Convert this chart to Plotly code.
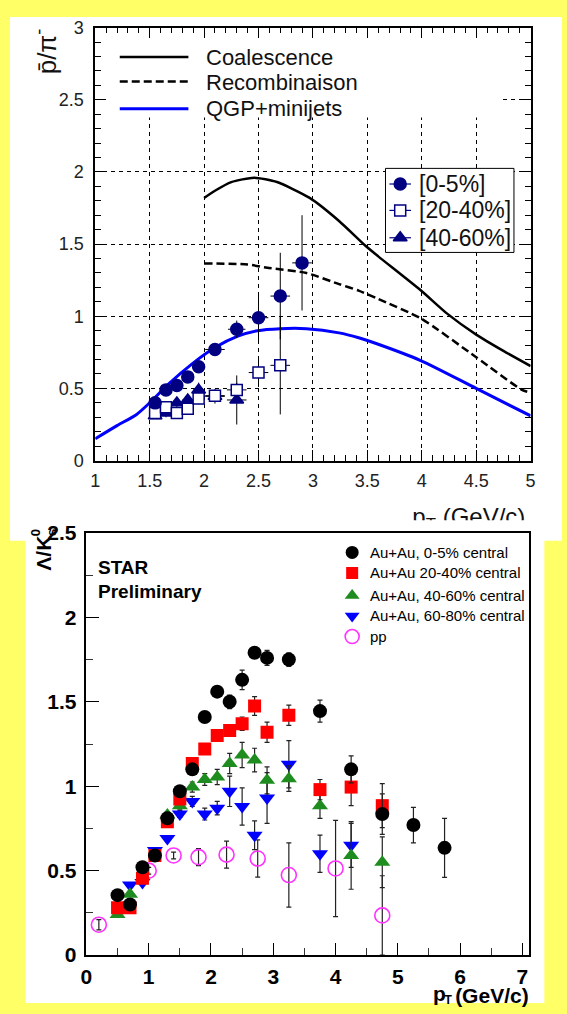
import plotly.graph_objects as go

W, H = 567, 1014
YELLOW = "#FFFF66"
NAVY = "#000080"
FONT = "Liberation Sans, Arial, sans-serif"

# ---------------- upper panel: pbar/pi- ratio ----------------
coal_x = [2.0, 2.1, 2.25, 2.46, 2.67, 2.97, 3.24, 3.48, 3.6, 3.99, 4.23, 4.5, 4.75, 5.0]
coal_y = [1.82, 1.87, 1.93, 1.96, 1.93, 1.82, 1.66, 1.49, 1.415, 1.18, 1.02, 0.873, 0.76, 0.655]

recomb_x = [2.0, 2.4, 2.58, 2.94, 3.24, 3.42, 3.6, 3.99, 4.5, 4.92, 5.0]
recomb_y = [1.366, 1.359, 1.336, 1.30, 1.223, 1.178, 1.12, 0.986, 0.716, 0.49, 0.47]

qgp_x = [1.0, 1.2, 1.38, 1.5, 1.68, 1.89, 2.1, 2.31, 2.49, 2.7, 2.94, 3.24, 3.42, 3.6, 3.99, 4.5, 5.0]
qgp_y = [0.151, 0.242, 0.32, 0.40, 0.535, 0.67, 0.783, 0.862, 0.90, 0.914, 0.914, 0.885, 0.851, 0.806, 0.693, 0.50, 0.31]

c05_x = [1.55, 1.65, 1.75, 1.85, 1.95, 2.1, 2.3, 2.5, 2.7, 2.9]
c05_y = [0.40, 0.49, 0.52, 0.58, 0.65, 0.77, 0.91, 0.99, 1.14, 1.37]
c05_ey = [0.02, 0.02, 0.02, 0.03, 0.03, 0.04, 0.06, 0.16, 0.30, 0.33]
c05_ex = [0.05, 0.05, 0.05, 0.05, 0.05, 0.09, 0.08, 0.09, 0.09, 0.09]

c2040_x = [1.55, 1.65, 1.75, 1.85, 1.95, 2.1, 2.3, 2.5, 2.7]
c2040_y = [0.33, 0.37, 0.33, 0.36, 0.43, 0.45, 0.49, 0.61, 0.66]
c2040_ey = [0.02, 0.03, 0.03, 0.03, 0.04, 0.04, 0.05, 0.10, 0.34]
c2040_ex = [0.05, 0.05, 0.05, 0.05, 0.05, 0.09, 0.09, 0.09, 0.09]

c4060_x = [1.55, 1.65, 1.75, 1.85, 1.95, 2.1, 2.3]
c4060_y = [0.31, 0.33, 0.40, 0.42, 0.49, 0.445, 0.42]
c4060_ey = [0.02, 0.03, 0.03, 0.04, 0.05, 0.05, 0.17]
c4060_ex = [0.05, 0.05, 0.05, 0.05, 0.05, 0.09, 0.09]

top_xticks = [1, 1.5, 2, 2.5, 3, 3.5, 4, 4.5, 5]
top_yticks = [0, 0.5, 1, 1.5, 2, 2.5, 3]

# ---------------- lower panel: Lambda/K0s ratio ----------------
auau05_x = [0.5, 0.7, 0.9, 1.1, 1.3, 1.5, 1.7, 1.9, 2.1, 2.3, 2.5, 2.7, 2.9, 3.25, 3.75, 4.25, 4.75, 5.25, 5.75]
auau05_y = [0.355, 0.30, 0.52, 0.59, 0.81, 0.97, 1.10, 1.41, 1.56, 1.50, 1.63, 1.79, 1.76, 1.75, 1.445, 1.10, 0.835, 0.77, 0.635]
auau05_e = [0.01, 0.01, 0.01, 0.01, 0.015, 0.015, 0.02, 0.02, 0.03, 0.04, 0.058, 0.03, 0.045, 0.04, 0.065, 0.08, 0.12, 0.105, 0.175]

auau2040_x = [0.5, 0.7, 0.9, 1.1, 1.3, 1.5, 1.7, 1.9, 2.1, 2.3, 2.5, 2.7, 2.9, 3.25, 3.75, 4.25, 4.75]
auau2040_y = [0.28, 0.28, 0.455, 0.59, 0.79, 0.925, 1.135, 1.22, 1.30, 1.33, 1.37, 1.475, 1.32, 1.42, 0.98, 0.995, 0.885]
auau2040_e = [0.01, 0.01, 0.01, 0.01, 0.015, 0.02, 0.02, 0.02, 0.025, 0.03, 0.04, 0.055, 0.06, 0.06, 0.06, 0.11, 0.13]

auau4060_x = [0.5, 0.7, 1.3, 1.5, 1.7, 1.9, 2.1, 2.3, 2.5, 2.7, 2.9, 3.25, 3.75, 4.25, 4.75]
auau4060_y = [0.24, 0.36, 0.83, 0.885, 0.995, 1.04, 1.055, 1.135, 1.185, 1.155, 1.035, 1.045, 0.885, 0.59, 0.55]
auau4060_e = [0.01, 0.01, 0.02, 0.02, 0.03, 0.035, 0.045, 0.06, 0.075, 0.07, 0.08, 0.075, 0.075, 0.2, 0.15]

auau6080_x = [0.7, 0.9, 1.1, 1.3, 1.5, 1.7, 1.9, 2.1, 2.3, 2.5, 2.7, 2.9, 3.25, 3.75, 4.25]
auau6080_y = [0.415, 0.43, 0.62, 0.69, 0.835, 0.91, 0.835, 0.87, 0.97, 0.88, 0.71, 0.93, 1.13, 0.60, 0.65]
auau6080_e = [0.01, 0.01, 0.01, 0.015, 0.02, 0.03, 0.035, 0.04, 0.09, 0.11, 0.085, 0.15, 0.14, 0.11, 0.13]

pp_x = [0.2, 1.0, 1.4, 1.8, 2.25, 2.75, 3.25, 4.0, 4.75]
pp_y = [0.18, 0.50, 0.59, 0.58, 0.595, 0.572, 0.474, 0.513, 0.235]
pp_e = [0.03, 0.02, 0.02, 0.05, 0.08, 0.11, 0.19, 0.285, 0.235]

bot_xticks = [0, 1, 2, 3, 4, 5, 6, 7]
bot_yticks = [0, 0.5, 1, 1.5, 2, 2.5]

legend_top_curves = ["Coalescence", "Recombinaison", "QGP+minijets"]
legend_top_points = ["[0-5%]", "[20-40%]", "[40-60%]"]
legend_bottom = ["Au+Au, 0-5% central", "Au+Au 20-40% central", "Au+Au, 40-60% central",
                 "Au+Au, 60-80% central", "pp"]

PP_COLOR = "#FF33FF"


def fx(px):
    return px / W


def fy(py):
    return 1 - py / H


fig = go.Figure()

# ---- upper panel traces ----
fig.add_trace(go.Scatter(x=coal_x, y=coal_y, mode="lines", line=dict(color="black", width=2.5, shape="spline", smoothing=0.6),
                         xaxis="x", yaxis="y", showlegend=False))
fig.add_trace(go.Scatter(x=recomb_x, y=recomb_y, mode="lines",
                         line=dict(color="black", width=2.5, dash="8px,4px", shape="spline", smoothing=0.6),
                         xaxis="x", yaxis="y", showlegend=False))
fig.add_trace(go.Scatter(x=qgp_x, y=qgp_y, mode="lines", line=dict(color="#0000FF", width=3, shape="spline", smoothing=0.8),
                         xaxis="x", yaxis="y", showlegend=False))


def top_points(x, y, ex, ey, symbol, fill, size):
    return go.Scatter(
        x=x, y=y, mode="markers", xaxis="x", yaxis="y", showlegend=False,
        error_y=dict(type="data", array=ey, color="black", thickness=1, width=0),
        error_x=dict(type="data", array=ex, color="black", thickness=1, width=0),
        marker=dict(symbol=symbol, size=size, color=fill, line=dict(color=NAVY, width=1.5)),
    )


fig.add_trace(top_points(c4060_x, c4060_y, c4060_ex, c4060_ey, "triangle-up", NAVY, 12))
fig.add_trace(top_points(c2040_x, c2040_y, c2040_ex, c2040_ey, "square", "white", 11))
fig.add_trace(top_points(c05_x, c05_y, c05_ex, c05_ey, "circle", NAVY, 12))


# ---- lower panel traces ----
def marker_style(symbol, color, size, hollow):
    if hollow:
        return dict(symbol=symbol, size=size, color="rgba(255,255,255,0)", line=dict(color=color, width=1.6))
    return dict(symbol=symbol, size=size, color=color, line=dict(width=0))


def bottom_points(x, y, e, symbol, color, size, hollow=False):
    return go.Scatter(
        x=x, y=y, mode="markers", xaxis="x2", yaxis="y2", showlegend=False,
        error_y=dict(type="data", array=e, color="#222", thickness=1.2, width=2.5),
        marker=marker_style(symbol, color, size, hollow),
    )


fig.add_trace(bottom_points(pp_x, pp_y, pp_e, "circle", PP_COLOR, 15, hollow=True))
fig.add_trace(bottom_points(auau6080_x, auau6080_y, auau6080_e, "triangle-down", "#0000FF", 14))
fig.add_trace(bottom_points(auau4060_x, auau4060_y, auau4060_e, "triangle-up", "#1E8C1E", 14))
fig.add_trace(bottom_points(auau2040_x, auau2040_y, auau2040_e, "square", "#FF0000", 13))
fig.add_trace(bottom_points(auau05_x, auau05_y, auau05_e, "circle", "black", 14))

# ---- legend keys, drawn on a full-page overlay axis in pixel units ----
key_style = [("solid", "black"), ("dash", "black"), ("solid", "#0000FF")]
key_rows = [46, 71, 99]
for (dash, col), row in zip(key_style, key_rows):
    fig.add_trace(go.Scatter(x=[116, 186], y=[row, row], mode="lines", xaxis="x3", yaxis="y3", showlegend=False,
                             line=dict(color=col, width=2.5 if col == "black" else 3,
                                       dash="8px,4px" if dash == "dash" else "solid")))

pt_rows = [176, 203, 231]
pt_syms = [("circle", NAVY, 12), ("square", "white", 11), ("triangle-up", NAVY, 12)]
for (sym, fill, size), row in zip(pt_syms, pt_rows):
    fig.add_trace(go.Scatter(x=[391, 413], y=[row, row], mode="lines", xaxis="x3", yaxis="y3", showlegend=False,
                             line=dict(color=NAVY, width=1.2)))
    fig.add_trace(go.Scatter(x=[402], y=[row], mode="markers", xaxis="x3", yaxis="y3", showlegend=False,
                             marker=dict(symbol=sym, size=size, color=fill, line=dict(color=NAVY, width=1.5))))

bl_rows = [553, 574, 597, 618, 639]
bl_syms = [("circle", "black", 13, False), ("square", "#FF0000", 12, False), ("triangle-up", "#1E8C1E", 13, False),
           ("triangle-down", "#0000FF", 13, False), ("circle", PP_COLOR, 14, True)]
for (sym, col, size, hollow), row in zip(bl_syms, bl_rows):
    fig.add_trace(go.Scatter(x=[353], y=[row], mode="markers", xaxis="x3", yaxis="y3", showlegend=False,
                             marker=marker_style(sym, col, size, hollow)))

# lower panel x title: p, subscript T, (GeV/c)
title_font = dict(family=FONT, size=21, color="black", weight="bold")
fig.add_trace(go.Scatter(x=[533], y=[1009], mode="text", text=["(GeV/c)"], textposition="middle left",
                         xaxis="x3", yaxis="y3", showlegend=False, cliponaxis=False, textfont=title_font))
fig.add_trace(go.Scatter(x=[442], y=[1007], mode="text", text=["p"], textposition="middle center",
                         xaxis="x3", yaxis="y3", showlegend=False, cliponaxis=False, textfont=title_font))
fig.add_trace(go.Scatter(x=[451], y=[1012], mode="text", text=["T"], textposition="middle center",
                         xaxis="x3", yaxis="y3", showlegend=False, cliponaxis=False,
                         textfont=dict(family=FONT, size=12, color="black", weight="bold")))

# upper panel x title, cut off where the lower panel starts
fig.add_trace(go.Scatter(x=[472], y=[519], mode="text", text=["p<sub>T</sub> (GeV/c)"], xaxis="x4", yaxis="y4",
                         showlegend=False, cliponaxis=True,
                         textfont=dict(family=FONT, size=24, color="#111")))

# ---- layout ----
top_font = dict(family=FONT, size=18, color="#222")
bot_font = dict(family=FONT, size=21, color="black", weight="bold")

axis_common = dict(showline=True, linecolor="black", ticks="inside", tickcolor="black", zeroline=False, fixedrange=True)

layout = dict(
    width=W, height=H, margin=dict(l=0, r=0, t=0, b=0),
    paper_bgcolor=YELLOW, plot_bgcolor="rgba(0,0,0,0)", showlegend=False,
    xaxis=dict(**axis_common, domain=[fx(91), fx(535)], range=[1, 5], linewidth=1.5, mirror="allticks",
               tickvals=top_xticks, ticktext=[f"{v:g}" for v in top_xticks], ticklen=11, tickwidth=1,
               minor=dict(dtick=0.1, tick0=1, ticklen=6, ticks="inside", tickcolor="black", showgrid=False),
               showgrid=True, gridcolor="black", gridwidth=1, griddash="4px,4px",
               tickfont=top_font, ticklabelstandoff=3, anchor="y"),
    yaxis=dict(**axis_common, domain=[fy(459), fy(16)], range=[0, 3], linewidth=1.5, mirror="allticks",
               tickvals=top_yticks, ticktext=[f"{v:g}" for v in top_yticks], ticklen=11, tickwidth=1,
               minor=dict(dtick=0.1, tick0=0, ticklen=6, ticks="inside", tickcolor="black", showgrid=False),
               showgrid=True, gridcolor="black", gridwidth=1, griddash="4px,4px",
               tickfont=top_font, ticklabelstandoff=6, anchor="x"),
    xaxis2=dict(**axis_common, domain=[fx(82), fx(533)], range=[0, 7.1], linewidth=1.5, mirror=True,
                tickvals=bot_xticks, ticktext=[str(v) for v in bot_xticks], ticklen=12, tickwidth=1.2,
                minor=dict(dtick=0.5, tick0=0, ticklen=7, ticks="inside", tickcolor="#333", showgrid=False),
                showgrid=False, tickfont=bot_font, ticklabelstandoff=2, anchor="y2"),
    yaxis2=dict(**axis_common, domain=[fy(965), fy(533)], range=[0, 2.5], linewidth=1.5, mirror=True,
                tickvals=bot_yticks, ticktext=[f"{v:g}" for v in bot_yticks], ticklen=13, tickwidth=1.2,
                minor=dict(dtick=0.25, tick0=0, ticklen=7, ticks="inside", tickcolor="#333", showgrid=False),
                showgrid=False, tickfont=bot_font, ticklabelstandoff=4, anchor="x2"),
    xaxis3=dict(domain=[0, 1], range=[0, W], visible=False, fixedrange=True, anchor="y3"),
    yaxis3=dict(domain=[0, 1], range=[H, 0], visible=False, fixedrange=True, anchor="x3"),
    xaxis4=dict(domain=[0, 1], range=[0, W], visible=False, fixedrange=True, anchor="y4"),
    yaxis4=dict(domain=[fy(520), fy(480)], range=[520, 480], visible=False, fixedrange=True, anchor="x4"),
)
fig.update_layout(**layout)


def tx(px):
    return 1 + (px - 91) / 111.0


def ty(py):
    return (459 - py) / 147.67


shapes = [
    # white page areas of the two panels
    dict(type="rect", xref="paper", yref="paper", x0=fx(4), x1=1, y0=fy(541), y1=fy(5),
         fillcolor="white", line=dict(width=0), layer="below"),
    dict(type="rect", xref="paper", yref="paper", x0=fx(20), x1=fx(549), y0=0, y1=fy(520),
         fillcolor="white", line=dict(width=0), layer="below"),
    # legend backgrounds in the upper panel
    dict(type="rect", xref="x", yref="y", x0=tx(92), x1=tx(505), y0=ty(108), y1=ty(17),
         fillcolor="white", line=dict(width=0), layer="between"),
    dict(type="rect", xref="x", yref="y", x0=tx(387), x1=tx(518), y0=ty(246), y1=ty(160),
         fillcolor="white", line=dict(color="black", width=1), layer="between"),
]
fig.update_layout(shapes=shapes)

ann = []
for text, row in zip(legend_top_curves, [47, 72, 99]):
    ann.append(dict(text=text, x=fx(202), y=fy(row), xanchor="left", yanchor="middle",
                    font=dict(family=FONT, size=22, color="#111")))
for text, row in zip(legend_top_points, [176, 203, 231]):
    ann.append(dict(text=text, x=fx(419), y=fy(row), xanchor="left", yanchor="middle",
                    font=dict(family=FONT, size=23, color="#111")))
ann.append(dict(text="p\u0304/\u03c0<sup>-</sup>", x=fx(40), y=fy(40), textangle=-90, xanchor="center",
                yanchor="middle", font=dict(family=FONT, size=26, color="#111")))

for text, row in zip(legend_bottom, bl_rows):
    ann.append(dict(text=text, x=fx(369), y=fy(row), xanchor="left", yanchor="middle",
                    font=dict(family=FONT, size=15, color="black")))
ann.append(dict(text="<b>STAR</b>", x=fx(92), y=fy(568), xanchor="left", yanchor="middle",
                font=dict(family=FONT, size=19, color="black")))
ann.append(dict(text="<b>Preliminary</b>", x=fx(92), y=fy(593), xanchor="left", yanchor="middle",
                font=dict(family=FONT, size=19, color="black")))
ann.append(dict(text="<b>\u039b/K</b>", x=fx(38), y=fy(554), textangle=-90, xanchor="center", yanchor="middle",
                font=dict(family=FONT, size=21, color="black")))
ann.append(dict(text="<b>0</b>", x=fx(31), y=fy(533), textangle=-90, xanchor="center", yanchor="middle",
                font=dict(family=FONT, size=13, color="black")))
ann.append(dict(text="<b>s</b>", x=fx(47), y=fy(533), textangle=-90, xanchor="center", yanchor="middle",
                font=dict(family=FONT, size=13, color="black")))

for a in ann:
    a.update(xref="paper", yref="paper", showarrow=False)
fig.update_layout(annotations=ann)

fig.write_html("out.html")
